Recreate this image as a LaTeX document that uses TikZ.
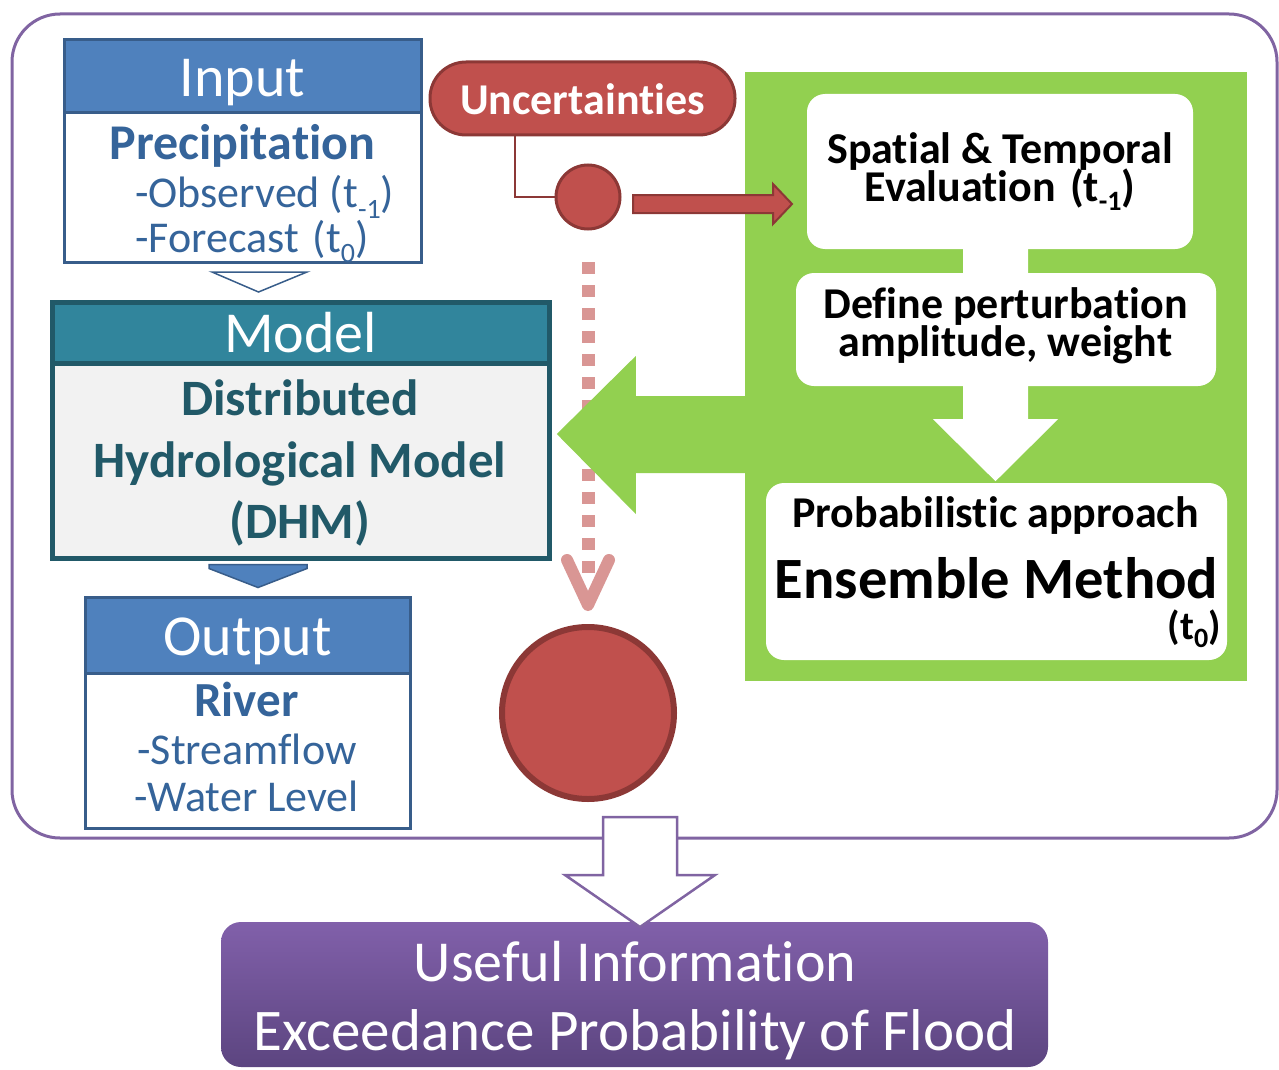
\documentclass[tikz,border=0pt]{standalone}
\usepackage{fontspec}
\setmainfont{Carlito}[Ligatures={NoCommon,NoContextual,NoRare},Contextuals=NoAlternate]
\usetikzlibrary{calc}

\definecolor{frameP}{HTML}{8064A2}
\definecolor{inFill}{HTML}{4F81BD}
\definecolor{inLine}{HTML}{385D8A}
\definecolor{inText}{HTML}{35649A}
\definecolor{mdFill}{HTML}{31859C}
\definecolor{mdLine}{HTML}{215968}
\definecolor{mdBody}{HTML}{F2F2F2}
\definecolor{redF}{HTML}{C0504D}
\definecolor{redD}{HTML}{8C3836}
\definecolor{pinkL}{HTML}{D99694}
\definecolor{greenP}{HTML}{92D050}
\definecolor{purpTop}{HTML}{8160AA}
\definecolor{purpBot}{HTML}{5C4580}

% lowered small text for time indices
\newcommand\lowidx[3]{\raisebox{-#1pt}{\fontsize{#2}{#2}\selectfont #3}}
\newcommand\fs[1]{\fontsize{#1}{#1}\selectfont}

\tikzset{
  every node/.style={inner sep=0pt},
  lbl/.style={anchor=base},
  panelbox/.style={draw=#1, line width=3pt},
  whitebox/.style={fill=white, rounded corners=18pt},
  blockarrow/.style={line width=1.5pt, line join=miter},
}

\begin{document}
\begin{tikzpicture}[x=1pt,y=-1pt]
\useasboundingbox (0,0) rectangle (1279,1070);

% outer frame
\node[draw=frameP, line width=3pt, rounded corners=48pt,
      minimum width=1265pt, minimum height=824pt] (frame) at (644.5,426) {};

% ---------------- Input block ----------------
\node[panelbox=inLine, fill=white, minimum width=357pt, minimum height=149pt] (inbody) at (242.5,187.5) {};
\node[panelbox=inLine, fill=inFill, minimum width=357pt, minimum height=73pt] (inhead) at (242.5,76.5) {};
\node[lbl, text=white, font=\fs{58}] (intitle) at (242.5,97) {Input};
\node[lbl, text=inText, font=\bfseries\fs{50}] (precip) at (242.5,160) {Precipitation};
\node[anchor=base west, text=inText, font=\fs{44}] (obs) at (135,207) {-Observed (t\lowidx{11}{28}{-1})};
\node[anchor=base west, text=inText, font=\fs{44}] (fcst) at (135,252) {-Forecast\hspace{4pt} (t\lowidx{10}{28}{0})};

% ---------------- Model block ----------------
\node[panelbox=mdLine, line width=5pt, fill=mdBody, minimum width=497pt, minimum height=195pt] (mdbody) at (300.5,460.5) {};
\node[panelbox=mdLine, line width=5pt, fill=mdFill, minimum width=497pt, minimum height=61pt] (mdhead) at (300.5,332.5) {};
\node[lbl, text=white, font=\fs{58}] (mdtitle) at (300.5,352) {Model};
\node[lbl, text=mdLine, font=\bfseries\fs{51}] (dist) at (300,415) {Distributed};
\node[lbl, text=mdLine, font=\bfseries\fs{51}] (hydro) at (300,477) {Hydrological Model};
\node[lbl, text=mdLine, font=\bfseries\fs{51}] (dhm) at (300,538) {(DHM)};

% arrow Input -> Model (outlined)
\draw[blockarrow, draw=inLine, fill=white, line width=1.5pt, shift={(inbody.south)}]
  (-30.5,8.5) -- (64.5,8.5) -- (16,28.5) -- cycle;

% ---------------- Output block ----------------
\node[panelbox=inLine, fill=white, minimum width=325pt, minimum height=155pt] (outbody) at (247.5,750.5) {};
\node[panelbox=inLine, fill=inFill, minimum width=325pt, minimum height=76pt] (outhead) at (247.5,635) {};
\node[lbl, text=white, font=\fs{58}] (outtitle) at (247.5,655) {Output};
\node[lbl, text=inText, font=\bfseries\fs{49}] (river) at (246.5,716) {River};
\node[lbl, text=inText, font=\fs{44}] (flow) at (247,764) {-Streamflow};
\node[lbl, text=inText, font=\fs{44}] (level) at (246.5,811) {-Water Level};

% arrow Model -> Output (filled)
\draw[blockarrow, draw=inLine, fill=inFill, shift={(mdbody.south)}]
  (-91.5,4) -- (6.5,4) -- (6.5,8) -- (-42.5,27) -- (-91.5,8) -- cycle;

% ---------------- Uncertainties ----------------
\node[draw=redD, fill=redF, line width=3pt, rounded corners=36pt,
      minimum width=305pt, minimum height=73pt] (unc) at (582.5,98.5) {};
\node[lbl, text=white, font=\bfseries\fs{44}] (unctext) at (582.5,114) {Uncertainties};
\node[circle, draw=redD, fill=redF, line width=3pt, minimum size=64pt] (dot) at (588,197) {};
\draw[redD, line width=2.5pt] ([xshift=-67.5pt]unc.south) |- (dot.west);

% ---------------- green evaluation panel ----------------
\node[fill=greenP, minimum width=502pt, minimum height=609pt] (panel) at (996,376.5) {};

% dashed path from the small to the large circle
\node[circle, draw=redD, fill=redF, line width=6pt, minimum size=172pt] (bigdot) at (588,713) {};
\draw[pinkL, line width=13pt, dash pattern=on 12pt off 11pt]
  ([yshift=-31.5pt]dot.south) -- ([yshift=49pt]bigdot.north);
\draw[pinkL, line width=12pt, line cap=round, line join=round, shift={(bigdot.north)}]
  (-21,-64) -- (0,-19) -- (21,-64);

% large green arrow from the panel to the model
\fill[greenP, shift={(panel.west)}]
  (2,19.5) -- (-109,19.5) -- (-109,-20.5) -- (-188,57.5) -- (-109,137.5) -- (-109,96.5) -- (2,96.5) -- cycle;

% red arrow from the uncertainty dot to the evaluation step
\draw[blockarrow, draw=redD, fill=redF, line width=2pt, shift={(dot.east)}]
  (11.5,-2) -- (151.5,-2) -- (151.5,-13) -- (170.5,7) -- (151.5,27) -- (151.5,16) -- (11.5,16) -- cycle;

% white step boxes
\node[whitebox, minimum width=386pt, minimum height=155pt] (spat) at (1000,171.5) {};
\node[whitebox, minimum width=420pt, minimum height=113pt] (pert) at (1006,329.5) {};
\node[whitebox, minimum width=461pt, minimum height=177pt] (ens) at (996.5,571.5) {};
\fill[white, shift={(spat.south)}]
  (-37,-4) -- (28,-4) -- (28,170) -- (58,170) -- (-4.5,232) -- (-67,170) -- (-37,170) -- cycle;

\node[lbl, font=\bfseries\fs{44}] (spat1) at (1000,163) {Spatial \& Temporal};
\node[lbl, font=\bfseries\fs{44}] (spat2) at (1000,201) {Evaluation\hspace{14pt}(t\lowidx{9}{28}{-1})};
\node[lbl, font=\bfseries\fs{44}] (pert1) at (1005.5,318) {Define perturbation};
\node[lbl, font=\bfseries\fs{44}] (pert2) at (1005.5,356) {amplitude, weight};
\node[lbl, font=\bfseries\fs{44}] (ens1) at (995.5,527) {Probabilistic approach};
\node[lbl, font=\bfseries\fs{58.5}] (ens2) at (996.5,598) {Ensemble Method};
\node[anchor=base east, font=\bfseries\fs{40}] (ens3) at (1221,639) {(t\lowidx{8}{28}{0})};

% ---------------- result ----------------
\node[top color=purpTop, bottom color=purpBot, rounded corners=20pt,
      minimum width=827pt, minimum height=145pt] (useful) at (634.5,994.5) {};
\draw[draw=frameP, fill=white, line width=2.5pt, line join=miter, shift={(frame.south)}]
  (-41.5,-22.5) -- (32.5,-22.5) -- (32.5,35.5) -- (70.5,35.5) -- (-4.5,87.5) -- (-79.5,35.5) -- (-41.5,35.5) -- cycle;
\node[lbl, text=white, font=\fs{58}] (useful1) at (635,981) {Useful Information};
\node[lbl, text=white, font=\fs{59}] (useful2) at (635,1050) {Exceedance Probability of Flood};
\end{tikzpicture}
\end{document}
